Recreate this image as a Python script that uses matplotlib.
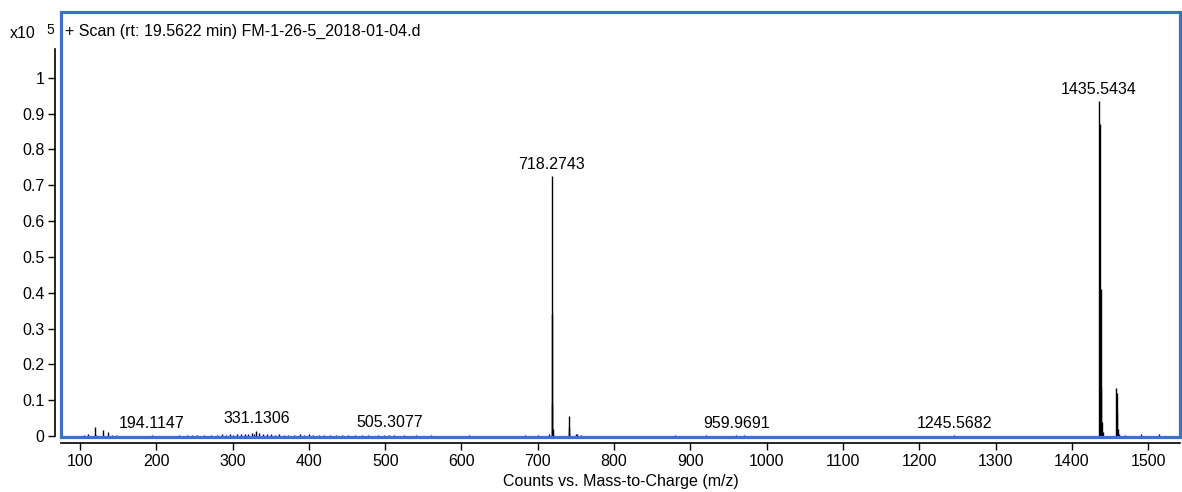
import matplotlib
matplotlib.use("Agg")
import matplotlib.pyplot as plt
from matplotlib.patches import Rectangle

plt.rcParams['font.family'] = ['Liberation Sans', 'DejaVu Sans']

# peak list: m/z and counts (x10^5)
mz = [105.0, 110.1, 120.08, 121.1, 130.07, 136.08, 142.0, 147.1, 194.11,
      230.0, 240.0, 247.0, 254.0, 262.0, 272.0, 279.0, 286.0, 291.0, 296.0,
      300.0, 306.0, 311.0, 316.0, 320.0, 325.0, 328.0, 331.13, 335.0, 340.0,
      345.0, 350.0, 355.0, 361.0, 367.0, 373.0, 381.0, 388.0, 394.0, 400.0,
      406.0, 413.0, 420.0, 428.0, 435.0, 443.0, 451.0, 460.0, 470.0, 478.0,
      490.0, 498.0, 505.31, 512.0, 525.0, 540.0, 560.0, 610.0, 683.0, 700.0,
      715.27, 718.27, 718.77, 719.27, 719.77, 720.27, 740.26, 740.76, 741.26,
      750.0, 752.0, 757.0, 880.0, 920.0, 959.97, 970.0, 1245.57,
      1435.54, 1436.55, 1437.55, 1438.55, 1439.55, 1440.5,
      1457.53, 1458.53, 1459.53, 1460.53, 1461.5, 1470.0, 1490.0, 1514.0]
counts = [0.003, 0.004, 0.025, 0.003, 0.016, 0.012, 0.003, 0.002, 0.002,
          0.002, 0.002, 0.002, 0.002, 0.002, 0.003, 0.003, 0.004, 0.003, 0.005,
          0.003, 0.004, 0.006, 0.004, 0.005, 0.007, 0.006, 0.015, 0.007, 0.005,
          0.005, 0.004, 0.003, 0.004, 0.003, 0.003, 0.002, 0.004, 0.003, 0.004,
          0.003, 0.003, 0.002, 0.003, 0.002, 0.003, 0.003, 0.003, 0.002, 0.003,
          0.002, 0.003, 0.003, 0.002, 0.002, 0.002, 0.002, 0.002, 0.002, 0.002,
          0.004, 0.725, 0.34, 0.09, 0.02, 0.005, 0.055, 0.025, 0.008,
          0.006, 0.004, 0.003, 0.002, 0.002, 0.002, 0.002, 0.003,
          0.935, 0.87, 0.41, 0.135, 0.04, 0.01,
          0.134, 0.12, 0.065, 0.02, 0.006, 0.003, 0.004, 0.004]

label_mz = [194.1147, 331.1306, 505.3077, 718.2743, 959.9691, 1245.5682, 1435.5434]
label_h = [0.003, 0.016, 0.004, 0.725, 0.002, 0.003, 0.935]

xticks = list(range(100, 1600, 100))
yticks = [0, 0.1, 0.2, 0.3, 0.4, 0.5, 0.6, 0.7, 0.8, 0.9, 1]
ytick_labels = ['0', '0.1', '0.2', '0.3', '0.4', '0.5', '0.6', '0.7', '0.8', '0.9', '1']

fs = 11.5

fig = plt.figure(figsize=(11.82, 4.92), dpi=100)
ax = fig.add_axes([61 / 1182, 1 - 437 / 492, 1119 / 1182, 425 / 492])

ax.vlines(mz, 0, counts, color='black', lw=1.0)

for m, h in zip(label_mz, label_h):
    ax.annotate(f"{m:.4f}", (m, h), xytext=(0, 3), textcoords='offset points',
                ha='center', va='bottom', fontsize=fs)

ax.set_xlim(75.1, 1541.7)
ax.set_ylim(-0.003, 1.184)

# blue selection frame
ax.add_patch(Rectangle((0, 0), 1, 1, transform=ax.transAxes, fill=False,
                       edgecolor='#3a72c8', lw=2.3, clip_on=False, zorder=5))
ax.spines['top'].set_visible(False)
ax.spines['right'].set_visible(False)
ax.spines['left'].set_position(('outward', 4))
ax.spines['bottom'].set_position(('outward', 4))
ax.spines['left'].set_bounds(0, 1.08)
ax.spines['left'].set_linewidth(1.2)
ax.spines['bottom'].set_linewidth(1.2)

ax.set_xticks(xticks)
ax.set_yticks(yticks)
ax.set_yticklabels(ytick_labels)
ax.tick_params(axis='both', labelsize=fs, length=5, width=1, direction='out', pad=3)
ax.set_xlabel('Counts vs. Mass-to-Charge (m/z)', fontsize=fs, labelpad=4)

ax.text(4 / 1119, 0.955, '+ Scan (rt: 19.5622 min) FM-1-26-5_2018-01-04.d',
        transform=ax.transAxes, ha='left', va='center', fontsize=fs)
fig.text(10 / 1182, 1 - 34 / 492, 'x10', ha='left', va='center', fontsize=fs)
fig.text(46 / 1182, 1 - 30 / 492, '5', ha='left', va='center', fontsize=10)

fig.savefig('out.png', dpi=100)
